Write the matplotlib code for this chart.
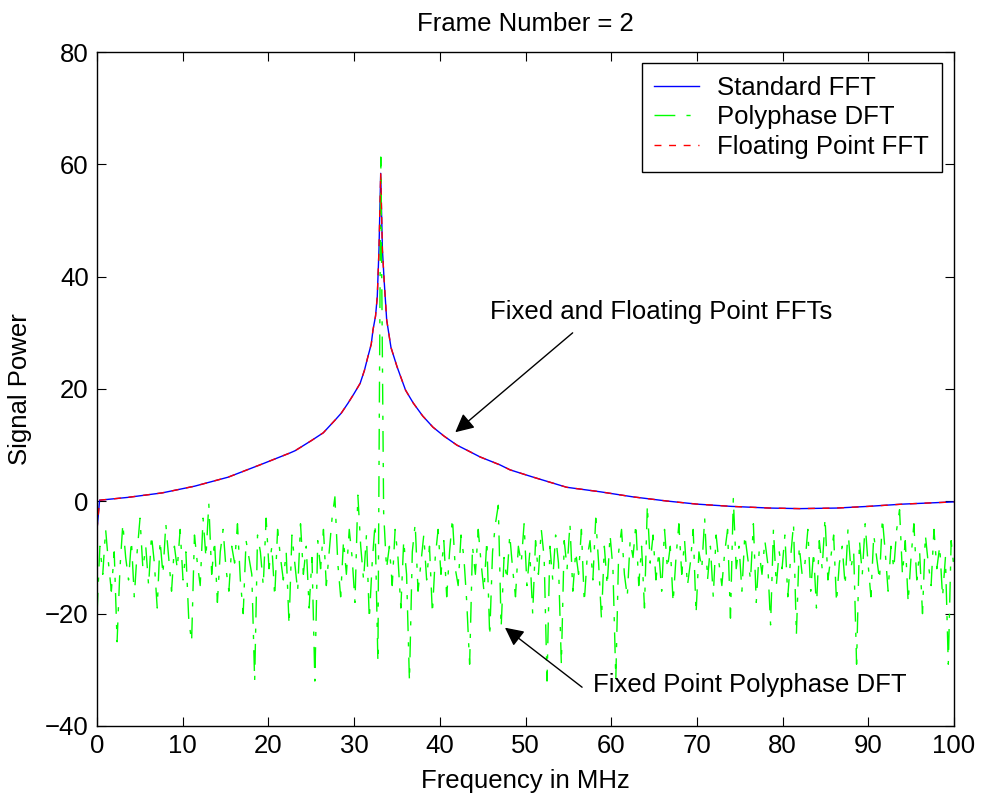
import numpy as np
import matplotlib
matplotlib.use('Agg')
import matplotlib.pyplot as plt

plt.rcParams['font.family'] = ['Liberation Sans', 'DejaVu Sans']

# FFT power curve, same for fixed and floating point
fft_freq = [0, 0.3, 3.6, 7.6, 11.4, 15.3, 19.2, 22.5, 23.1, 25.0, 26.4, 27.8, 28.5,
            29.3, 30.0, 30.7, 31.2, 31.6, 32.0, 32.2, 32.5, 32.7, 32.9, 33.1, 33.3,
            33.5, 33.8, 34.3, 35.0, 36.0, 36.9, 38.0, 39.2, 40.5, 42.0, 43.3, 44.7,
            47.0, 48.2, 50.9, 54.8, 58.7, 62.5, 66.5, 70.0, 74.0, 78.5, 82.0, 86.3,
            90.0, 94.0, 97.0, 100.0]
fft_power = [-5, 0.2, 0.7, 1.5, 2.7, 4.3, 6.6, 8.6, 9.0, 10.8, 12.2, 14.5, 15.7,
             17.5, 19.2, 21.0, 23.3, 25.7, 28.0, 30.5, 33.0, 36.4, 44.8, 58.4, 44.8,
             39.4, 32.3, 27.4, 24.0, 19.8, 17.5, 15.2, 13.2, 11.6, 10.0, 9.0, 7.9,
             6.5, 5.6, 4.3, 2.5, 1.7, 0.8, 0.05, -0.5, -0.9, -1.2, -1.3, -1.2,
             -0.9, -0.5, -0.3, -0.1]

# Fixed point polyphase DFT output, 300 bins over 0-100 MHz
poly_power = [
    -20, -8, -13, -5, -11, -16, -9, -25, -12, -4, -10, -14, -7, -17, -9, -3, -12, -8, -15, -6,
    -11, -19, -7, -13, -4, -10, -16, -8, -12, -5, -14, -9, -21, -25, -6, -11, -15, -3, -10, -0.4,
    -13, -7, -18, -9, -5, -12, -16, -8, -11, -4, -14, -20, -7, -10, -13, -32, -6, -9, -15, -3,
    -12, -8, -17, -5, -10, -14, -9, -22, -6, -11, -16, -4, -13, -8, -19, -10, -32, -7, -12, -5,
    -15, -9, -3, 0.8, -11, -17, -7, -13, -5, -10, -18, 1.1, -8, -14, -6, -21, -11, -4, -28.6, 61.3,
    -2, -12, -8, -15, -5, -10, -19, -7, -13, -32, -9, -4, -16, -11, -6, -14, -8, -20, -10, -5,
    -13, -7, -17, -9, -3, -12, -15, -6, -10, -18, -29, -8, -13, -5, -11, -16, -7, -24, -9, -4,
    -0.7, -22.4, -10, -14, -6, -12, -17, -8, -11, -4, -15, -9, -20, -7, -13, -5, -10, -32, -8, -14,
    -6, -11, -29, -7, -12, -4, -16, -9, -13, -5, -18, -10, -7, -14, -3, -11, -21, -8, -15, -6,
    -12, -31.7, -9, -5, -13, -17, -7, -10, -4, -15, -8, -19, -0.7, -11, -6, -14, -9, -16, -5, -12,
    -8, -18, -10, -4, -13, -7, -15, -11, -5, -20, -9, -12, -3, -14, -8, -17, -6, -11, -15, -9,
    -5, -20.8, 0.5, -12, -8, -16, -6, -10, -14, -4, -18, -9, -13, -7, -11, -22, -5, -15, -9, -12,
    -6, -17, -10, -4, -23.8, -8, -13, -11, -5, -16, -9, -19, -7, -12, -3, -14, -10, -6, -18, -11,
    -8, -15, -5, -12, -9, -29, -7, -13, -4, -11, -17, -6, -10, -14, -3, -9, -16, -8, -12, -5,
    -1.5, -13, -7, -18, -10, -4, -14, -9, -20, -6, -11, -15, -5, -12, -8, -17, -10, -29, -7, -12,
]
poly_freq = np.linspace(0, 100, len(poly_power))

fs = 18.5

fig = plt.figure(figsize=(9.81, 7.99), dpi=100)
ax = fig.add_axes([0.0989, 0.0914, 0.8736, 0.8435])

ax.plot(fft_freq, fft_power, color='b', lw=1, label='Standard FFT')
ax.plot(poly_freq, poly_power, color='#00ff00', lw=1, dashes=(15, 8, 3, 8),
        label='Polyphase DFT')
ax.plot(fft_freq, fft_power, color='r', lw=1, dashes=(5, 5.5), label='Floating Point FFT')

ax.set_xlim(0, 100)
ax.set_ylim(-40, 80)
ax.set_xticks(np.arange(0, 101, 10))
ax.set_yticks(np.arange(-40, 81, 20))
ax.tick_params(direction='in', length=6.5, top=True, right=True, labelsize=fs, pad=6)
for s in ax.spines.values():
    s.set_linewidth(1)

ax.set_title('Frame Number = 2', fontsize=fs, pad=15)
ax.set_xlabel('Frequency in MHz', fontsize=fs, labelpad=8)
ax.set_ylabel('Signal Power', fontsize=fs, labelpad=9)

leg = ax.legend(loc='upper right', fontsize=fs, fancybox=False, edgecolor='k',
                framealpha=1, handlelength=1.75, handletextpad=0.7,
                borderpad=0.5, labelspacing=0.22, borderaxespad=0,
                bbox_to_anchor=(0.986, 0.984))
leg.get_frame().set_linewidth(1)

# annotations
ax.text(45.9, 33.7, 'Fixed and Floating Point FFTs', fontsize=fs, ha='left', va='center')
ax.annotate('', xy=(41.8, 12.3), xytext=(55.5, 30.0),
            arrowprops=dict(arrowstyle='-|>', color='k', lw=1, mutation_scale=28,
                            shrinkA=0, shrinkB=0))
ax.text(57.9, -32.7, 'Fixed Point Polyphase DFT', fontsize=fs, ha='left', va='center')
ax.annotate('', xy=(47.6, -22.5), xytext=(56.6, -33.1),
            arrowprops=dict(arrowstyle='-|>', color='k', lw=1, mutation_scale=28,
                            shrinkA=0, shrinkB=0))

fig.savefig('out.png', dpi=100)
